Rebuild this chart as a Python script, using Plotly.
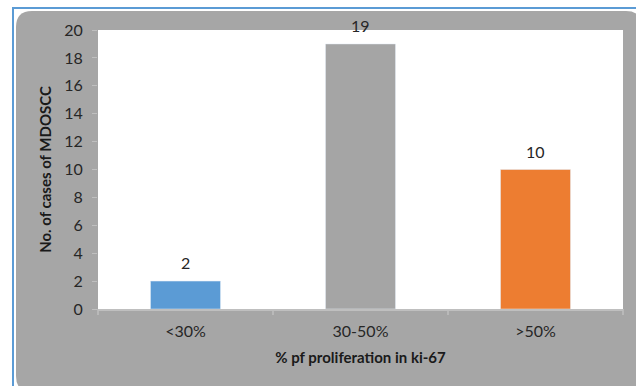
import plotly.graph_objects as go

categories = ["<30%", "30-50%", ">50%"]
values = [2, 19, 10]
colors = ["#5b9bd5", "#a5a5a5", "#ed7d31"]
y_ticks = list(range(0, 21, 2))

W, H = 636, 386
L, R, T, B = 98, 13, 30, 77
pw, ph = W - L - R, H - T - B

def px(x):
    return (x - L) / pw

def py(y):
    return (H - B - y) / ph

fig = go.Figure(go.Bar(
    x=categories, y=values, marker_color=colors, width=0.4,
))

for c, v in zip(categories, values):
    fig.add_annotation(x=c, y=v, xref="x", yref="y", text=str(v), showarrow=False,
                       yanchor="bottom", yshift=7,
                       font=dict(size=16, color="#262626"))

# gray rounded background
x0, x1, y0, y1, r = 16, 642, 11, 392, 16
path = (f"M {px(x0)},{py(y0 + r)} "
        f"Q {px(x0)},{py(y0)} {px(x0 + r)},{py(y0)} "
        f"L {px(x1 - r)},{py(y0)} "
        f"Q {px(x1)},{py(y0)} {px(x1)},{py(y0 + r)} "
        f"L {px(x1)},{py(y1 - r)} "
        f"Q {px(x1)},{py(y1)} {px(x1 - r)},{py(y1)} "
        f"L {px(x0 + r)},{py(y1)} "
        f"Q {px(x0)},{py(y1)} {px(x0)},{py(y1 - r)} Z")
shapes = [
    dict(type="path", xref="paper", yref="paper", path=path,
         fillcolor="#a6a6a6", line=dict(width=0), layer="below"),
    dict(type="rect", xref="paper", yref="paper", x0=0, x1=1, y0=0, y1=1,
         fillcolor="white", line=dict(width=0), layer="below"),
    dict(type="line", xref="paper", yref="paper", x0=px(13), x1=px(13), y0=py(7), y1=py(390),
         line=dict(color="#5b9bd5", width=2)),
    dict(type="line", xref="paper", yref="paper", x0=px(12), x1=px(640), y0=py(8), y1=py(8),
         line=dict(color="#5b9bd5", width=2)),
]
for i in range(len(categories) + 1):
    xb = i / len(categories)
    shapes.append(dict(type="line", xref="paper", yref="paper", x0=xb, x1=xb,
                       y0=0, y1=py(315), line=dict(color="#bfbfbf", width=1.5)))

fig.update_layout(
    width=W, height=H,
    margin=dict(l=L, r=R, t=T, b=B),
    paper_bgcolor="white", plot_bgcolor="rgba(0,0,0,0)",
    font=dict(family="Lato, Open Sans, sans-serif", size=16, color="#262626"),
    shapes=shapes, showlegend=False,
    xaxis=dict(
        showgrid=False, showline=True, linecolor="#bfbfbf", linewidth=1.5,
        ticks="", tickfont=dict(size=16, color="#262626"), ticklabelstandoff=7,
        title=dict(text="<b>% pf proliferation in ki-67</b>", font=dict(size=15, color="#1a1a1a"), standoff=14),
    ),
    yaxis=dict(
        range=[0, 20], tickvals=y_ticks, showgrid=False, zeroline=False,
        showline=False, ticks="outside", ticklen=5, tickcolor="#bfbfbf",
        tickfont=dict(size=16, color="#262626"), ticklabelstandoff=6,
        title=dict(text="<b>No. of cases of MDOSCC</b>", font=dict(size=15, color="#1a1a1a"), standoff=8),
    ),
)

fig.write_html("out.html")
